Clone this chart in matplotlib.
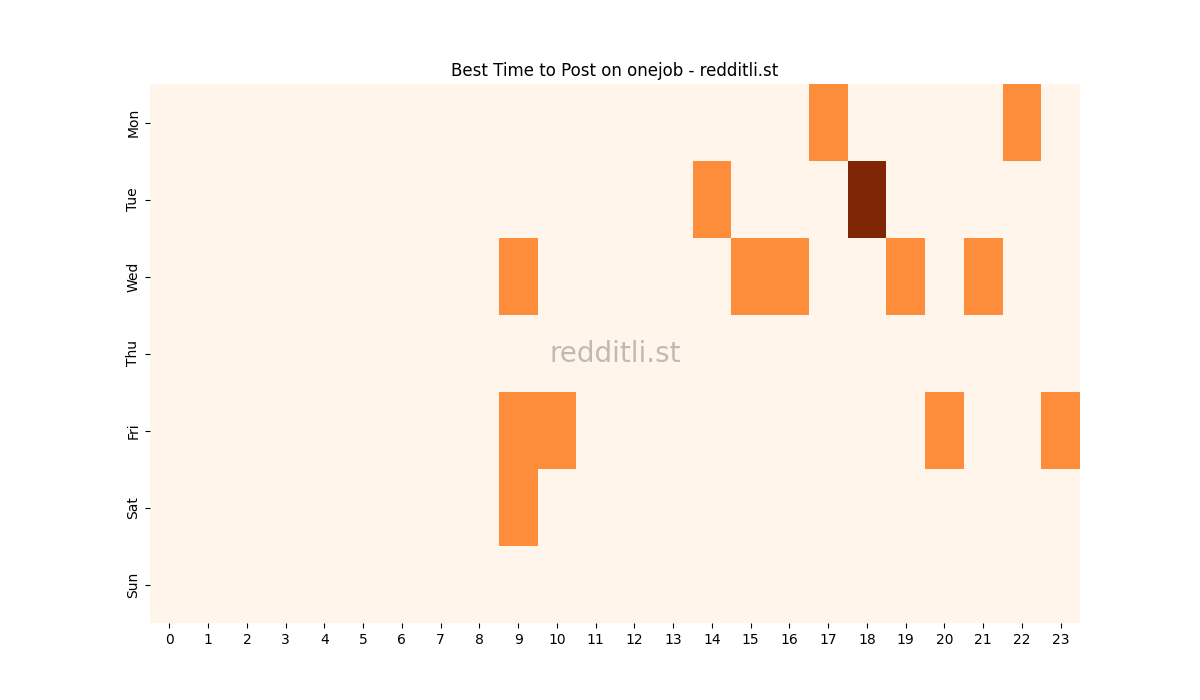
import matplotlib
matplotlib.use("Agg")
import matplotlib.pyplot as plt
import seaborn as sns
import numpy as np

days = ["Mon", "Tue", "Wed", "Thu", "Fri", "Sat", "Sun"]
hours = list(range(24))

# post score per day/hour
mon = [0, 0, 0, 0, 0, 0, 0, 0, 0, 0, 0, 0, 0, 0, 0, 0, 0, 1, 0, 0, 0, 0, 1, 0]
tue = [0, 0, 0, 0, 0, 0, 0, 0, 0, 0, 0, 0, 0, 0, 1, 0, 0, 0, 2, 0, 0, 0, 0, 0]
wed = [0, 0, 0, 0, 0, 0, 0, 0, 0, 1, 0, 0, 0, 0, 0, 1, 1, 0, 0, 1, 0, 1, 0, 0]
thu = [0, 0, 0, 0, 0, 0, 0, 0, 0, 0, 0, 0, 0, 0, 0, 0, 0, 0, 0, 0, 0, 0, 0, 0]
fri = [0, 0, 0, 0, 0, 0, 0, 0, 0, 1, 1, 0, 0, 0, 0, 0, 0, 0, 0, 0, 1, 0, 0, 1]
sat = [0, 0, 0, 0, 0, 0, 0, 0, 0, 1, 0, 0, 0, 0, 0, 0, 0, 0, 0, 0, 0, 0, 0, 0]
sun = [0, 0, 0, 0, 0, 0, 0, 0, 0, 0, 0, 0, 0, 0, 0, 0, 0, 0, 0, 0, 0, 0, 0, 0]

data = np.array([mon, tue, wed, thu, fri, sat, sun])

fig, ax = plt.subplots(figsize=(12, 7), dpi=100)
sns.heatmap(data, cmap="Oranges", cbar=False, xticklabels=hours,
            yticklabels=days, ax=ax)
plt.yticks(rotation=90)
plt.xticks(rotation=0)
ax.set_title("Best Time to Post on onejob - redditli.st")
ax.text(0.5, 0.5, "redditli.st", transform=ax.transAxes, fontsize=20,
        color="gray", alpha=0.5, ha="center", va="center")

plt.savefig("out.png")
